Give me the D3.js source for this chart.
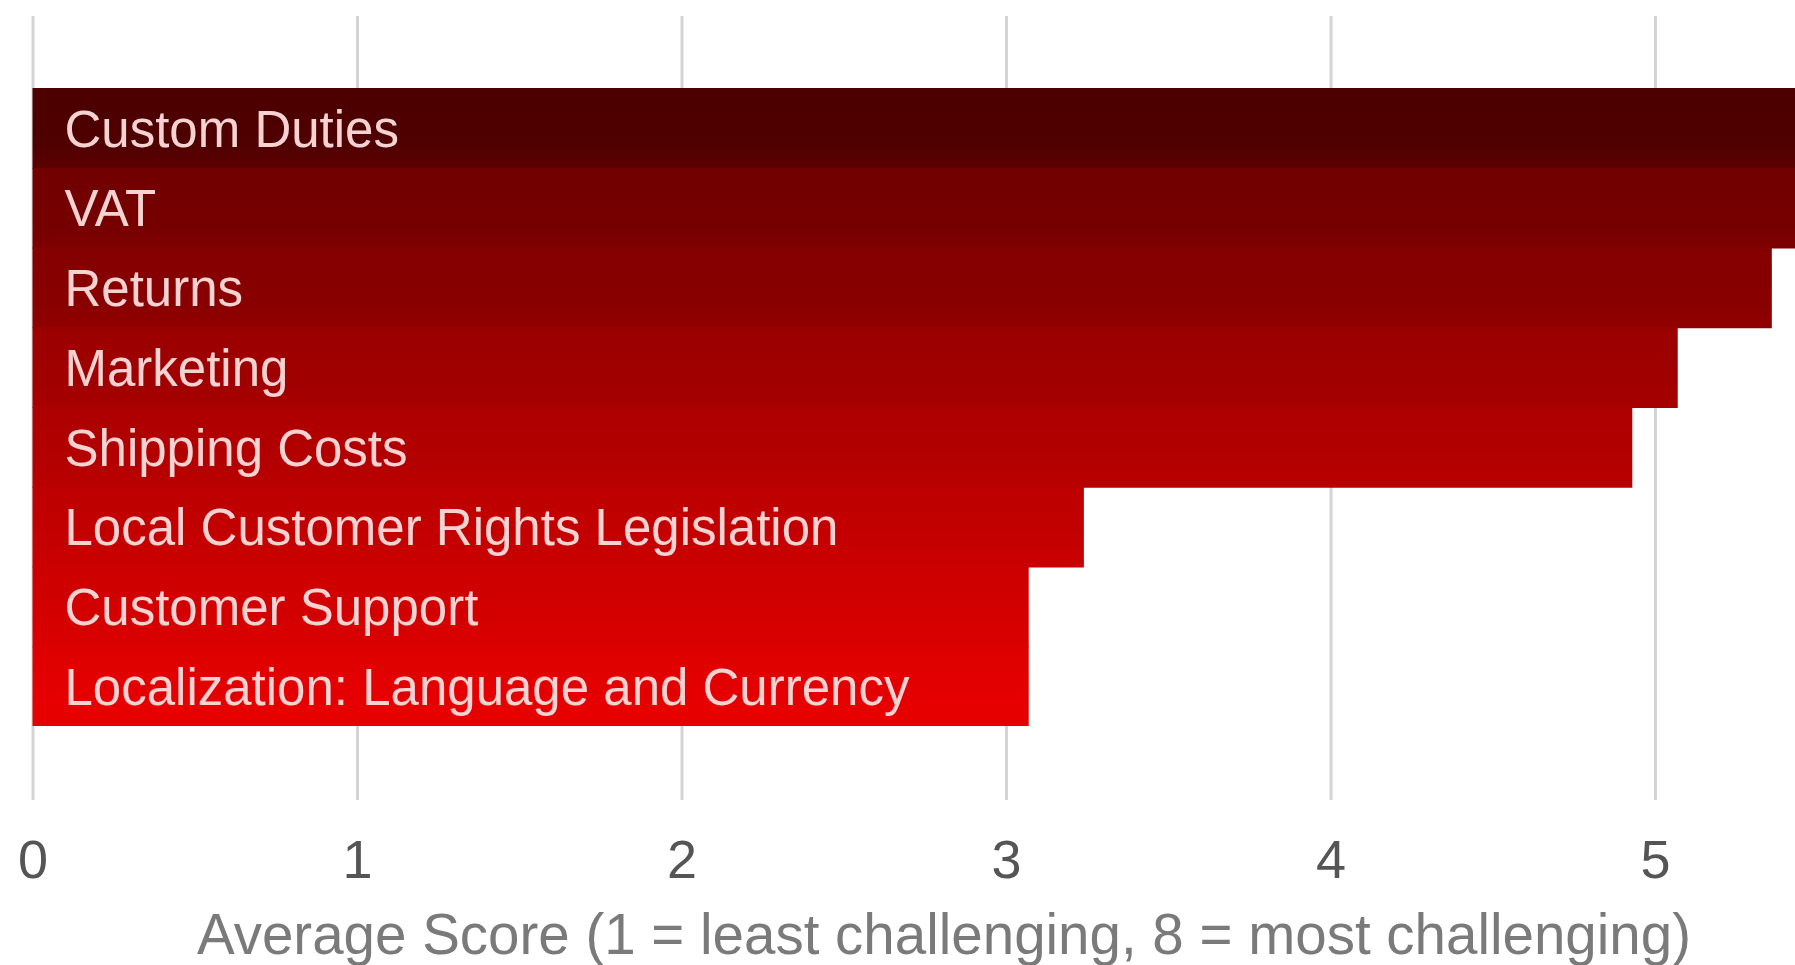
<!DOCTYPE html>
<html>
<head>
<meta charset="utf-8">
<script src="https://cdn.jsdelivr.net/npm/d3@7"></script>
<style>
  html, body { margin: 0; padding: 0; background: #fff; }
  svg { display: block; }
  text { font-family: "Liberation Sans", Arial, sans-serif; }
</style>
</head>
<body>
<svg id="chart" width="1795" height="965"></svg>
<script>
const categories = [
  "Custom Duties",
  "VAT",
  "Returns",
  "Marketing",
  "Shipping Costs",
  "Local Customer Rights Legislation",
  "Customer Support",
  "Localization: Language and Currency"
];
const scores = [5.6, 5.5, 5.36, 5.07, 4.93, 3.24, 3.07, 3.07];
const barColors = ["#4f0000", "#760000", "#890000", "#a10000", "#b40000", "#c50000", "#d50000", "#e60000"];
const tickValues = [0, 1, 2, 3, 4, 5];
const axisTitle = "Average Score (1 = least challenging, 8 = most challenging)";

const W = 1795, H = 965;
const svg = d3.select("#chart");

const x = d3.scaleLinear().domain([0, 1]).range([32.5, 357]);
const y = d3.scaleBand().domain(categories).range([88, 726]).padding(0);

const gridTop = 16, gridBottom = 800;

// defs: per-bar gradients
const defs = svg.append("defs");
categories.forEach((c, i) => {
  const next = barColors[Math.min(i + 1, barColors.length - 1)];
  const g = defs.append("linearGradient")
    .attr("id", "grad" + i)
    .attr("x1", 0).attr("y1", 0).attr("x2", 0).attr("y2", 1);
  g.append("stop").attr("offset", "0%").attr("stop-color", d3.interpolateRgb(barColors[i], "#000")(0.04));
  g.append("stop").attr("offset", "70%").attr("stop-color", barColors[i]);
  g.append("stop").attr("offset", "100%").attr("stop-color", d3.interpolateRgb(barColors[i], next)(0.35));
});
defs.append("clipPath").attr("id", "clip")
  .append("rect").attr("x", 0).attr("y", 0).attr("width", W).attr("height", H);

// axis with gridlines
const axis = d3.axisBottom(x)
  .tickValues(tickValues)
  .tickFormat(d3.format("d"))
  .tickSize(-(gridBottom - gridTop))
  .tickPadding(40);

const gAxis = svg.append("g")
  .attr("transform", `translate(0,${gridBottom})`)
  .call(axis);
gAxis.select(".domain").remove();
gAxis.selectAll(".tick line")
  .attr("stroke", "#d4d4d4")
  .attr("stroke-width", 3);
gAxis.selectAll(".tick text")
  .attr("fill", "#555555")
  .style("font-size", "54px")
  .style("font-family", "'Liberation Sans', Arial, sans-serif");

// bars
const bars = svg.append("g").attr("clip-path", "url(#clip)");
bars.selectAll("rect")
  .data(categories)
  .join("rect")
  .attr("x", x(0))
  .attr("y", d => y(d))
  .attr("width", (d, i) => x(scores[i]) - x(0))
  .attr("height", (d, i) => y.bandwidth() + (i < categories.length - 1 ? 1 : 0))
  .attr("fill", (d, i) => `url(#grad${i})`);

// labels
svg.append("g").selectAll("text")
  .data(categories)
  .join("text")
  .attr("x", x(0) + 32)
  .attr("y", d => y(d) + y.bandwidth() / 2)
  .attr("dy", "0.37em")
  .attr("fill", "#f6d2d2")
  .style("font-size", "51px")
  .text(d => d);

// axis title
svg.append("text")
  .attr("x", 944)
  .attr("y", 954)
  .attr("text-anchor", "middle")
  .attr("fill", "#7a7a7a")
  .style("font-size", "56.5px")
  .text(axisTitle);
</script>
</body>
</html>
